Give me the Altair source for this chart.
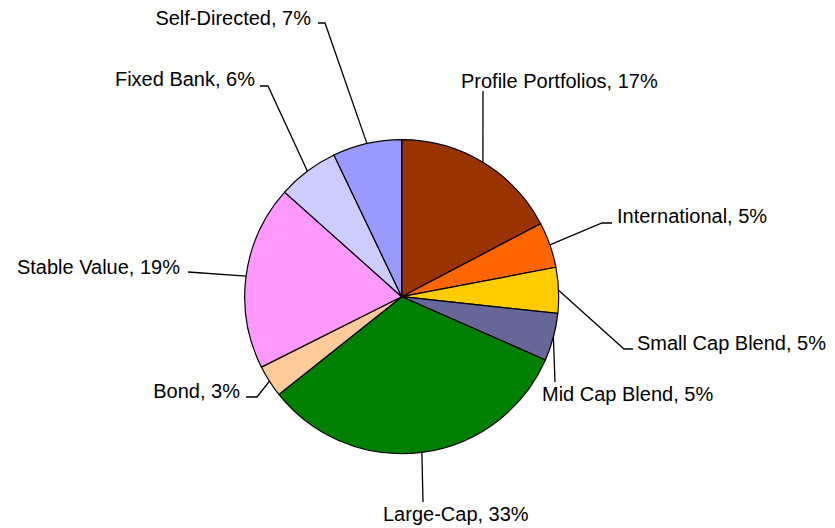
import math
import altair as alt
import pandas as pd

# ---- data ----
names = ["Profile Portfolios", "International", "Small Cap Blend", "Mid Cap Blend",
         "Large-Cap", "Bond", "Stable Value", "Fixed Bank", "Self-Directed"]
values = [17.3, 4.7, 4.7, 4.9, 32.7, 3.3, 19.0, 6.3, 7.1]
colors = ["#993300", "#FF6600", "#FFCC00", "#666699", "#008000",
          "#FFCC99", "#FF99FF", "#CCCCFF", "#9999FF"]

# ---- layout (page pixel coordinates) ----
W, H = 819, 520
CX, CY, R = 401.7, 296.7, 157
# leader-line elbow / end points after the slice edge point
leader_pts = [
    [(483, 91)],
    [(602, 223), (612, 223)],
    [(624, 349), (633, 349)],
    [(555, 382)],
    [(423, 502)],
    [(257, 397), (246, 397)],
    [(188, 272)],
    [(268, 86), (260, 86)],
    [(325, 23), (318, 23)],
]
# label anchors: x, y (middle), align
label_pos = [
    (461, 82, "left"),
    (617, 217, "left"),
    (637, 344, "left"),
    (542, 395, "left"),
    (383, 515, "left"),
    (240, 392, "right"),
    (180, 268, "right"),
    (255, 80, "right"),
    (311, 19, "right"),
]

total = sum(values)
arc_df = pd.DataFrame({"name": names, "value": values, "order": list(range(len(names)))})

line_rows = []
lab_rows = []
cum = 0.0
for i, (n, v) in enumerate(zip(names, values)):
    frac = (cum + v / 2) / total
    cum += v
    a = 2 * math.pi * frac
    sx, sy = CX + R * math.sin(a), CY - R * math.cos(a)
    pts = [(sx, sy)] + leader_pts[i]
    for j, (px, py) in enumerate(pts):
        line_rows.append({"name": n, "idx": j, "px": px, "py": py})
    lx, ly, al = label_pos[i]
    lab_rows.append({"name": n, "label": f"{n}, {round(v)}%", "lx": lx, "ly": ly, "align": al})

line_df = pd.DataFrame(line_rows)
lab_df = pd.DataFrame(lab_rows)

xs = alt.Scale(domain=[8, 8 + W], range=[0, W], nice=False, zero=False)
ys = alt.Scale(domain=[8, 8 + H], range=[0, H], nice=False, zero=False)

arc = alt.Chart(arc_df).mark_arc(outerRadius=R, stroke="black", strokeWidth=1.2).encode(
    theta=alt.Theta("value:Q", stack=True),
    order=alt.Order("order:Q"),
    color=alt.Color("name:N", scale=alt.Scale(domain=names, range=colors), legend=None),
    x=alt.value(CX - 8),
    y=alt.value(CY - 8),
)

lines = alt.Chart(line_df).mark_line(color="black", strokeWidth=1.3).encode(
    x=alt.X("px:Q", scale=xs, axis=None),
    y=alt.Y("py:Q", scale=ys, axis=None),
    detail="name:N",
    order="idx:Q",
)

FONT = "Liberation Sans"
FS = 20
text_left = alt.Chart(lab_df[lab_df["align"] == "left"]).mark_text(
    font=FONT, fontSize=FS, align="left", baseline="middle", color="black"
).encode(
    x=alt.X("lx:Q", scale=xs, axis=None),
    y=alt.Y("ly:Q", scale=ys, axis=None),
    text="label:N",
)
text_right = alt.Chart(lab_df[lab_df["align"] == "right"]).mark_text(
    font=FONT, fontSize=FS, align="right", baseline="middle", color="black"
).encode(
    x=alt.X("lx:Q", scale=xs, axis=None),
    y=alt.Y("ly:Q", scale=ys, axis=None),
    text="label:N",
)

chart = alt.layer(arc, lines, text_left, text_right).properties(
    width=W, height=H, autosize="none", padding=0, background="white"
).configure_view(stroke=None)

chart.save("out.html", embed_options={"renderer": "svg", "actions": False})
